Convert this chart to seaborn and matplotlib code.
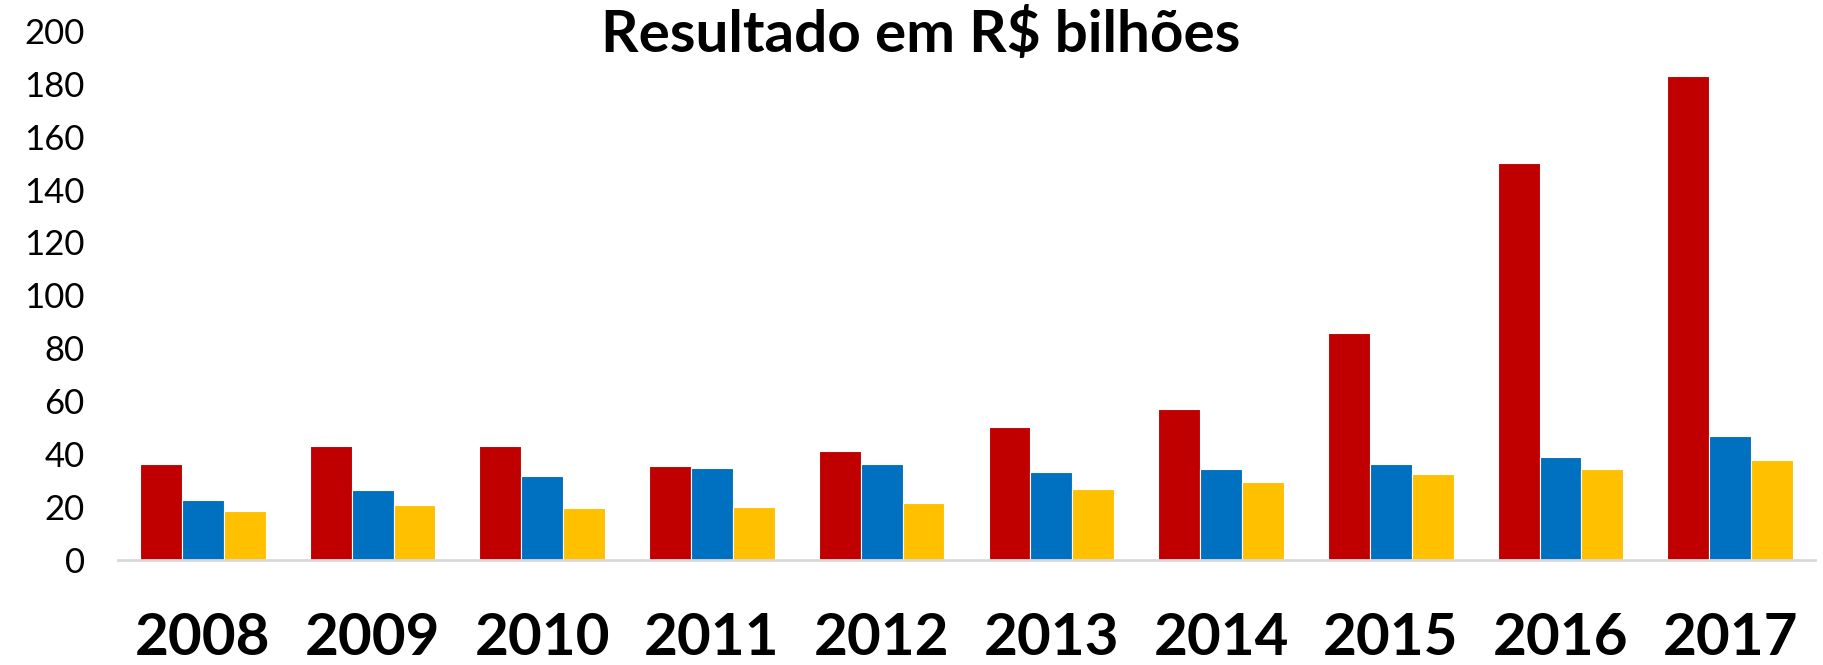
import pandas as pd
import matplotlib.pyplot as plt
import seaborn as sns

sns.set_style("white")
plt.rcParams['font.family'] = ['Lato', 'DejaVu Sans']
plt.rcParams['text.color'] = 'black'
plt.rcParams['xtick.color'] = 'black'
plt.rcParams['ytick.color'] = 'black'

anos = ['2008', '2009', '2010', '2011', '2012', '2013', '2014', '2015', '2016', '2017']
serie_vermelha = [36.3, 43.0, 43.0, 35.5, 41.0, 50.1, 56.9, 85.6, 150.0, 182.8]
serie_azul = [22.5, 26.3, 31.7, 34.7, 36.3, 33.0, 34.3, 36.2, 38.9, 46.9]
serie_amarela = [18.4, 20.6, 19.5, 19.9, 21.4, 26.7, 29.5, 32.5, 34.2, 37.7]
series = ['Série 1', 'Série 2', 'Série 3']
cores = ['#C00000', '#0070C0', '#FFC000']

# tabela longa para o seaborn
df = pd.DataFrame({
    'ano': anos * 3,
    'serie': [series[0]] * 10 + [series[1]] * 10 + [series[2]] * 10,
    'valor': serie_vermelha + serie_azul + serie_amarela,
})

fig = plt.figure(figsize=(18.24, 6.65), dpi=100)
ax = fig.add_axes([0.0647, 0.1586, 0.9304, 0.7948])

sns.barplot(data=df, x='ano', y='valor', hue='serie', palette=cores,
            width=0.74, saturation=1, legend=False, ax=ax,
            edgecolor='white', linewidth=0.8)

ax.set_ylim(0, 200)
ax.set_xlim(-0.5, 9.5)
ax.set_yticks(range(0, 201, 20))
ax.set_xlabel('')
ax.set_ylabel('')
ax.tick_params(axis='y', length=0, pad=24, labelsize=25)
ax.tick_params(axis='x', length=0, pad=38, labelsize=42)
for t in ax.get_xticklabels():
    t.set_fontweight('bold')

for lado in ['top', 'right', 'left']:
    ax.spines[lado].set_visible(False)
ax.spines['bottom'].set_color('#d9d9d9')
ax.spines['bottom'].set_linewidth(2)
ax.grid(False)

fig.text(0.505, 0.947, 'Resultado em R$ bilhões', ha='center', va='center',
         fontsize=42, fontweight='bold')

fig.savefig('out.png', dpi=100)
